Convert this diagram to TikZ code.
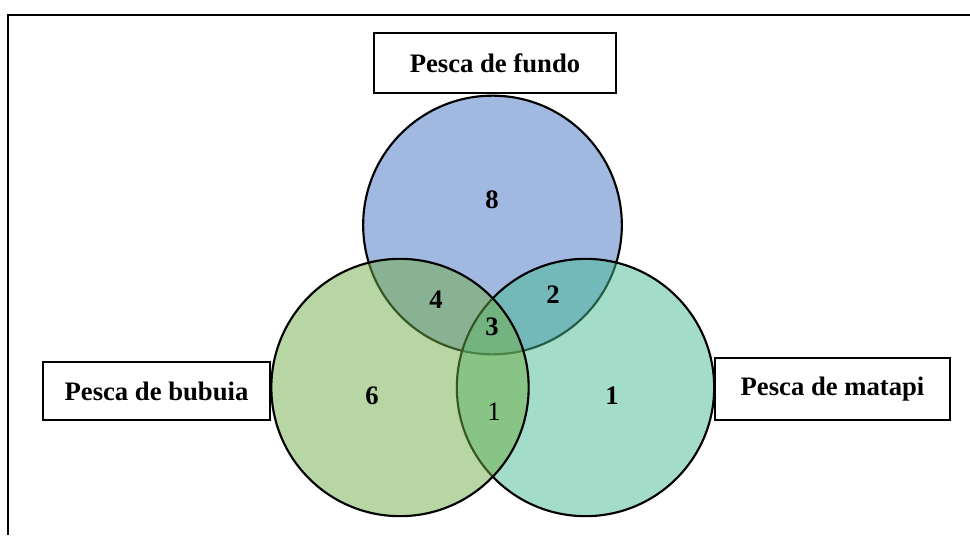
\documentclass[tikz,border=0pt]{standalone}
\usepackage{fontspec}
\setmainfont{Liberation Serif}
\usepackage{xcolor}
\usepackage{tikz}
\definecolor{FundoBlue}{HTML}{4472C4}
\definecolor{BubuiaGreen}{HTML}{70AD47}
\definecolor{MatapiTeal}{HTML}{47BB93}

\begin{document}
\begin{tikzpicture}[x=0.75pt, y=-0.75pt, line width=1.6pt,
    set/.style={circle, draw=black, fill opacity=0.5, draw opacity=1,
      inner sep=0pt, minimum size=194pt},
    namebox/.style={draw=black, fill=white, inner sep=0pt,
      font=\fontsize{20}{24}\selectfont\bfseries},
    count/.style={font=\fontsize{20}{24}\selectfont\bfseries}]
      \useasboundingbox (0,0) rectangle (970,535);
      % open frame
      \draw (970,15) -- (8,15) -- (8,535);
      % sets
      \node[set, fill=FundoBlue] (fundo) at (492.5,225) {};
      \node[set, fill=MatapiTeal, minimum size=193pt] (matapi) at (585.5,387.5) {};
      \node[set, fill=BubuiaGreen, minimum size=193pt] (bubuia) at (400,387.5) {};
      % set names
      \node[namebox, minimum width=181.5pt, minimum height=45pt] (fundoname) at (495,63) {Pesca de fundo};
      \node[namebox, minimum width=170pt, minimum height=43.5pt] (bubuianame) at (156.5,391) {Pesca de bubuia};
      \node[namebox, minimum width=176pt, minimum height=46.5pt] (matapiname) at (832.5,389) {Pesca de matapi};
      % counts
      \node[count] (nfundo) at (492,200) {8};
      \node[count] (nfb) at (436,300) {4};
      \node[count] (nfm) at (553,295) {2};
      \node[count] (nall) at (492,327) {3};
      \node[count] (nbubuia) at (372,396) {6};
      \node[count] (nmatapi) at (612,396) {1};
      \node[font=\fontsize{20}{24}\selectfont] (nbm) at (494,412) {1};
    \end{tikzpicture}
\end{document}
